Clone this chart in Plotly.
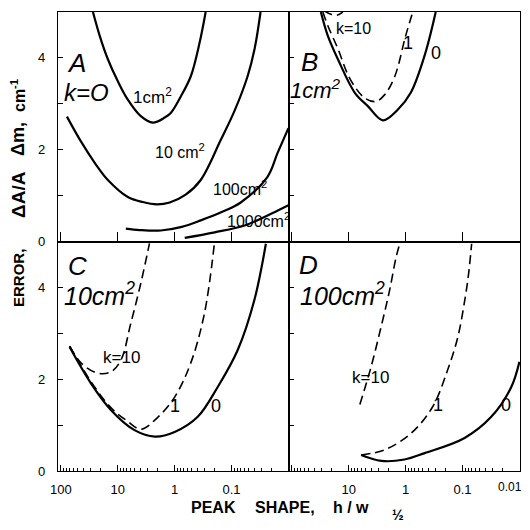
import plotly.graph_objects as go
from plotly.subplots import make_subplots

# ---------------- data (x = peak shape h/w1/2, y = error dA/A dm, cm^-1) ----------------
# Panel A : k = 0, different areas
a_1_x = [27.3, 20.6, 14.9, 9.96, 6.65, 3.93, 2.42, 1.49, 1.17, 0.78, 0.52, 0.363, 0.285]
a_1_y = [5.0, 4.47, 3.97, 3.49, 3.09, 2.73, 2.59, 2.70, 2.80, 3.16, 3.60, 4.34, 5.0]
a_10_x = [78.2, 44.4, 25.2, 14.9, 6.65, 3.63, 2.06, 1.22, 0.64, 0.348, 0.155, 0.0883, 0.0522, 0.0393, 0.0309]
a_10_y = [2.72, 2.18, 1.71, 1.34, 0.97, 0.86, 0.81, 0.85, 1.02, 1.34, 2.21, 2.85, 3.6, 4.2, 5.0]
a_100_x = [7.21, 4.1, 1.75, 0.75, 0.348, 0.149, 0.069, 0.0233, 0.0155, 0.01]
a_100_y = [0.28, 0.25, 0.24, 0.32, 0.46, 0.64, 0.85, 1.41, 1.93, 2.47]
a_1000_x = [0.665, 0.198, 0.0589, 0.0198, 0.01]
a_1000_y = [0.08, 0.20, 0.35, 0.61, 0.79]

# Panel B : 1 cm^2, k = 0, 1, 10
b_0_x = [30.9, 23.3, 15.5, 7.82, 4.62, 2.52, 1.38, 0.814, 0.462, 0.296]
b_0_y = [5.0, 4.48, 3.97, 3.24, 2.95, 2.64, 2.87, 3.24, 4.06, 5.0]
b_1_x = [28.5, 23.3, 15.5, 9.57, 5.28, 3.35, 2.33, 1.55, 1.0, 0.75]
b_1_y = [5.0, 4.7, 4.2, 3.55, 3.13, 3.05, 3.2, 3.6, 4.48, 5.0]
b_10_x = [27.3, 20.6, 16.2, 12.7]
b_10_y = [5.03, 4.95, 4.93, 5.0]

# Panel C : 10 cm^2
c_0_x = [70.1, 29.6, 13.2, 5.07, 2.23, 1.0, 0.393, 0.175, 0.0782, 0.0398, 0.0249]
c_0_y = [2.70, 1.91, 1.33, 0.89, 0.75, 0.85, 1.18, 1.83, 2.63, 3.72, 4.95]
c_1_x = [70.1, 29.6, 13.2, 6.65, 3.93, 1.98, 1.0, 0.522, 0.30, 0.20]
c_1_y = [2.72, 1.95, 1.38, 1.08, 0.91, 1.17, 1.61, 2.35, 3.43, 4.96]
c_10_x = [70.1, 43.9, 22.3, 13.2, 8.83, 5.89, 3.93, 2.77]
c_10_y = [2.72, 2.35, 2.13, 2.16, 2.41, 3.22, 4.09, 4.96]

# Panel D : 100 cm^2
d_0_x = [6.05, 2.68, 1.05, 0.462, 0.0919, 0.0313, 0.0139, 0.01]
d_0_y = [0.35, 0.22, 0.25, 0.39, 0.72, 1.18, 1.83, 2.38]
d_1_x = [6.06, 2.36, 0.804, 0.335, 0.183, 0.122, 0.0919, 0.0782, 0.0692]
d_1_y = [0.35, 0.46, 0.82, 1.40, 2.2, 2.9, 3.7, 4.3, 4.95]
d_10_x = [6.38, 4.05, 2.7, 1.92, 1.47, 1.27]
d_10_y = [1.45, 2.27, 3.14, 3.93, 4.66, 4.95]

x_major = [100, 10, 1, 0.1, 0.01]
x_labels_left = ["100", "10", "1", "0.1", ""]
x_labels_right = ["", "10", "1", "0.1", ""]   # "0.01" is placed as text so it stays inside the page
x_minor = [m * 10.0 ** k for k in range(-2, 2) for m in range(2, 10)]
y_major = [0, 1, 2, 3, 4]
y_labels = ["0", "", "2", "", "4"]

# ---------------- figure ----------------
FONT = "Liberation Sans"
fig = make_subplots(rows=2, cols=2, horizontal_spacing=0, vertical_spacing=0)

solid = dict(color="black", width=2.2)
dashed = dict(color="black", width=1.6, dash="9px,5px")

def add(x, y, line, r, c):
    fig.add_trace(go.Scatter(x=x, y=y, mode="lines", line=line, line_shape="spline",
                             hoverinfo="skip", showlegend=False), row=r, col=c)

add(a_1_x, a_1_y, solid, 1, 1)
add(a_10_x, a_10_y, solid, 1, 1)
add(a_100_x, a_100_y, solid, 1, 1)
add(a_1000_x, a_1000_y, solid, 1, 1)

add(b_0_x, b_0_y, solid, 1, 2)
add(b_1_x, b_1_y, dashed, 1, 2)
add(b_10_x, b_10_y, dashed, 1, 2)

add(c_0_x, c_0_y, solid, 2, 1)
add(c_1_x, c_1_y, dashed, 2, 1)
add(c_10_x, c_10_y, dashed, 2, 1)

add(d_0_x, d_0_y, solid, 2, 2)
add(d_1_x, d_1_y, dashed, 2, 2)
add(d_10_x, d_10_y, dashed, 2, 2)

xbase = dict(type="log", range=[2.05, -2.01], showline=True, linecolor="black", linewidth=1.4,
             mirror=True, showgrid=False, zeroline=False, ticks="inside", tickcolor="black",
             tickwidth=1.3, tickvals=x_major,
             tickfont=dict(family=FONT, size=13, color="black"))
ybase = dict(range=[0, 5], showline=True, linecolor="black", linewidth=1.4, mirror=True,
             showgrid=False, zeroline=False, ticks="inside", tickcolor="black", tickwidth=1.3,
             ticklen=5, tickvals=y_major, ticktext=y_labels,
             tickfont=dict(family=FONT, size=13, color="black"), ticklabelstandoff=9)

minor = dict(ticks="inside", ticklen=3, tickvals=x_minor, tickcolor="black", tickwidth=1, showgrid=False)

fig.update_xaxes(row=1, col=1, **xbase, ticklen=9, showticklabels=False)
fig.update_xaxes(row=1, col=2, **xbase, ticklen=9, showticklabels=False)
fig.update_xaxes(row=2, col=1, **xbase, ticklen=6, ticktext=x_labels_left, minor=minor,
                 ticklabelstandoff=6)
fig.update_xaxes(row=2, col=2, **xbase, ticklen=6, ticktext=x_labels_right, minor=minor,
                 ticklabelstandoff=6)
fig.update_yaxes(row=1, col=1, **ybase)
fig.update_yaxes(row=2, col=1, **ybase)
fig.update_yaxes(row=1, col=2, **ybase)
fig.update_yaxes(row=2, col=2, **ybase)
fig.update_yaxes(row=1, col=2, showticklabels=False)
fig.update_yaxes(row=2, col=2, showticklabels=False)

# ---------------- text ----------------
# the page body has an 8px margin, so the figure is made 8px smaller and
# positions below are given in page pixels
OFF = 8
W = H = 522
L, R, T, B = 50, 10, 4, 59
def px(xp):
    return (xp - OFF - L) / (W - L - R)
def py(yp):
    return (H - B - (yp - OFF)) / (H - T - B)

ann = []
def text(s, x, y, size, angle=0, bold=False):
    ann.append(dict(text=s, x=px(x), y=py(y), xref="paper", yref="paper",
                    xanchor="center", yanchor="middle", showarrow=False, textangle=angle,
                    font=dict(family=FONT, size=size, color="black",
                              weight="bold" if bold else "normal")))

# panel A
text("<i>A</i>", 76, 63, 26)
text("<i>k=O</i>", 86, 92, 24)
text("1cm<sup>2</sup>", 152, 96, 17)
text("10 cm<sup>2</sup>", 180, 151, 16)
text("100cm<sup>2</sup>", 240, 188, 16)
text("1000cm<sup>2</sup>", 258, 220, 16)
# panel B
text("<i>B</i>", 309, 62, 26)
text("<i>1cm<sup>2</sup></i>", 315, 89, 22)
text("k=10", 353, 28, 16)
text("1", 408, 43, 18)
text("0", 436, 53, 18)
# panel C
text("<i>C</i>", 77, 266, 26)
text("<i>10cm<sup>2</sup></i>", 99, 294, 25)
text("k=10", 121, 357, 17)
text("1", 175, 406, 18)
text("0", 216, 406, 18)
# panel D
text("<i>D</i>", 308, 265, 26)
text("<i>100cm<sup>2</sup></i>", 342, 294, 25)
text("k=10", 370, 377, 17)
text("1", 438, 405, 18)
text("0", 506, 405, 18)
# last tick label of panel D
text("0.01", 510, 487, 12)

# axis titles
text("ERROR,", 18, 278, 15, angle=-90, bold=True)
text("ΔA/A", 18, 195, 19, angle=-90, bold=True)
text("Δm,", 18, 139, 18, angle=-90, bold=True)
text("cm<sup>-1</sup>", 18, 96, 16, angle=-90, bold=True)
text("PEAK", 213, 507, 16, bold=True)
text("SHAPE,", 285, 507, 16, bold=True)
text("h / w", 351, 507, 16, bold=True)
text("½", 398, 515, 14, bold=True)

fig.update_layout(width=W, height=H, margin=dict(l=L, r=R, t=T, b=B),
                  paper_bgcolor="white", plot_bgcolor="white", showlegend=False,
                  annotations=ann)

fig.write_html("out.html")
